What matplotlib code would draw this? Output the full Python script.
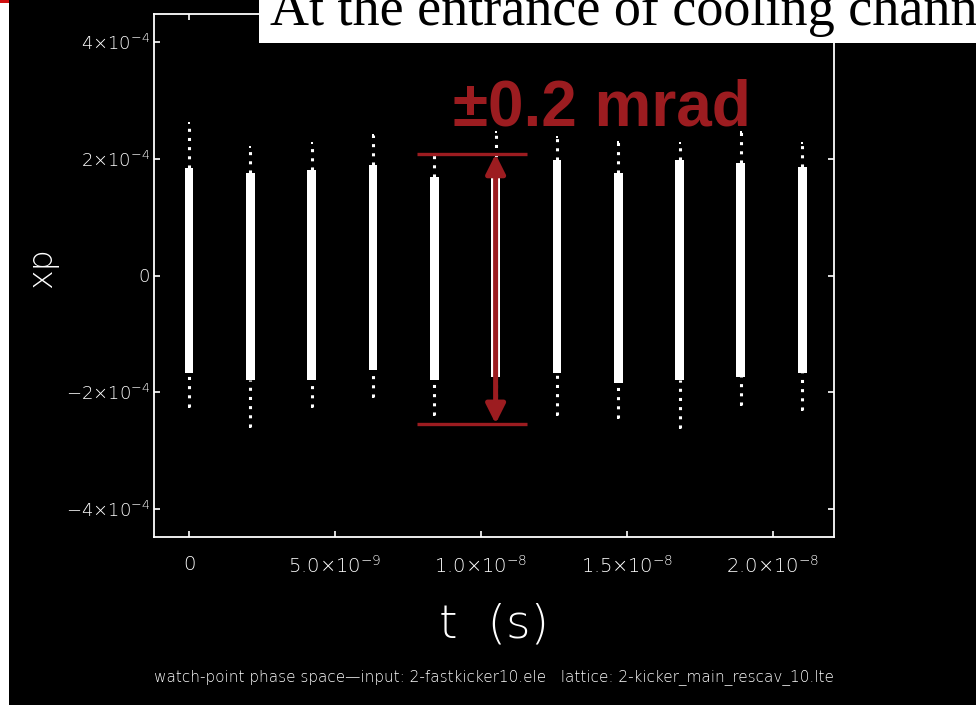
import matplotlib.pyplot as plt
from matplotlib.patches import Rectangle

plt.rcParams['mathtext.fontset'] = 'custom'
plt.rcParams['mathtext.rm'] = 'DejaVu Sans:light'
plt.rcParams['mathtext.it'] = 'DejaVu Sans:light'
plt.rcParams['mathtext.default'] = 'rm'

# bunch arrival times (s) and xp extents (rad) of each bunch at the watch point
t_bunch = [0.0, 2.1e-9, 4.2e-9, 6.3e-9, 8.4e-9, 10.5e-9,
           12.6e-9, 14.7e-9, 16.8e-9, 18.9e-9, 21.0e-9]
core_hi = [1.84e-4, 1.75e-4, 1.81e-4, 1.89e-4, 1.69e-4, 1.72e-4,
           1.98e-4, 1.75e-4, 1.98e-4, 1.93e-4, 1.86e-4]
core_lo = [-1.67e-4, -1.79e-4, -1.79e-4, -1.62e-4, -1.79e-4, -1.74e-4,
           -1.67e-4, -1.84e-4, -1.79e-4, -1.74e-4, -1.67e-4]
tail_hi = [2.61e-4, 2.20e-4, 2.27e-4, 2.41e-4, 2.06e-4, 2.46e-4,
           2.37e-4, 2.29e-4, 2.27e-4, 2.46e-4, 2.27e-4]
tail_lo = [-2.25e-4, -2.59e-4, -2.25e-4, -2.08e-4, -2.39e-4, -2.08e-4,
           -2.39e-4, -2.44e-4, -2.61e-4, -2.22e-4, -2.30e-4]

xticks = [0, 5e-9, 1e-8, 1.5e-8, 2e-8]
xtick_labels = ['0', r'5.0×10$^{-9}$', r'1.0×10$^{-8}$', r'1.5×10$^{-8}$', r'2.0×10$^{-8}$']
yticks = [-4e-4, -2e-4, 0, 2e-4, 4e-4]
ytick_labels = [r'$-$4×10$^{-4}$', r'$-$2×10$^{-4}$', '0', r'2×10$^{-4}$', r'4×10$^{-4}$']

# divergence bracket drawn over the sixth bunch
span_t = [7.81e-9, 11.58e-9]
span_top = 2.08e-4
span_bottom = -2.54e-4
span_text = '±0.2 mrad'

RED = '#9c1c20'
W, H = 976, 705

fig = plt.figure(figsize=(9.76, 7.05), dpi=100, facecolor='black')
ax = fig.add_axes([154 / W, 1 - 537 / H, 680 / W, 523 / H], facecolor='black')

# bunches: solid core plus sparse tails
ax.bar(t_bunch, [h - l for h, l in zip(core_hi, core_lo)], bottom=core_lo,
       width=0.3e-9, color='white', lw=0, zorder=2)
ax.vlines(t_bunch, core_hi, tail_hi, colors='white', lw=2.2,
          linestyles=(0, (1, 2.0)), zorder=2)
ax.vlines(t_bunch, tail_lo, core_lo, colors='white', lw=2.2,
          linestyles=(0, (1, 2.0)), zorder=2)
ax.scatter(t_bunch, tail_hi, s=3, marker='s', color='white', lw=0, zorder=2)
ax.scatter(t_bunch, tail_lo, s=3, marker='s', color='white', lw=0, zorder=2)

ax.set_xlim(-1.2e-9, 2.209e-8)
ax.set_ylim(-4.48e-4, 4.48e-4)
ax.set_xticks(xticks)
ax.set_xticklabels(xtick_labels, family='DejaVu Sans', fontweight='light')
ax.set_yticks(yticks)
ax.set_yticklabels(ytick_labels, family='DejaVu Sans', fontweight='light')
for s in ax.spines.values():
    s.set_color('white')
    s.set_linewidth(1.3)
ax.tick_params(direction='in', length=4, width=1.2, color='white',
               labelcolor='white', top=True, right=True)
ax.tick_params(axis='x', pad=13, labelsize=14)
ax.tick_params(axis='y', pad=3, labelsize=13)

# bracket
ax.hlines([span_top, span_bottom], span_t[0], span_t[1], colors=RED, lw=2.4, zorder=4)
ax.annotate('', xy=(t_bunch[5], span_bottom), xytext=(t_bunch[5], span_top),
            arrowprops=dict(arrowstyle='<|-|>,head_length=0.4,head_width=0.2',
                            mutation_scale=29, lw=3.6, color=RED,
                            shrinkA=0, shrinkB=0), zorder=4)
fig.text(453 / W, 1 - 125 / H, span_text, color=RED, fontsize=46,
         family='Liberation Sans', fontweight='bold', va='baseline', ha='left')

fig.text(494 / W, 1 - 624 / H, 't  (s)', color='white', fontsize=34,
         family='DejaVu Sans', fontweight='light', ha='center', va='center')
fig.text(42 / W, 1 - 268 / H, 'xp', color='white', fontsize=24,
         family='DejaVu Sans', fontweight='light', rotation=90, ha='center', va='center')
fig.text(494 / W, 1 - 677 / H,
         'watch-point phase space—input: 2-fastkicker10.ele   lattice: 2-kicker_main_rescav_10.lte',
         color='white', fontsize=11, family='DejaVu Sans', fontweight='light',
         ha='center', va='center')

# slide overlay: title box and left margin strip
fig.add_artist(Rectangle((259 / W, 1 - 43 / H), 1, 43 / H, transform=fig.transFigure,
                         facecolor='white', edgecolor='none', zorder=5))
fig.text(270 / W, 1 - 25 / H, 'At the entrance of cooling channel', color='black',
         fontsize=39, family='Liberation Serif', va='baseline', ha='left', zorder=6)
fig.add_artist(Rectangle((0, 0), 9 / W, 1, transform=fig.transFigure,
                         facecolor='white', edgecolor='none', zorder=5))
fig.add_artist(Rectangle((0, 1 - 3 / H), 9 / W, 3 / H, transform=fig.transFigure,
                         facecolor='#d01010', edgecolor='none', zorder=6))

fig.savefig('out.png', dpi=100, facecolor='black')
